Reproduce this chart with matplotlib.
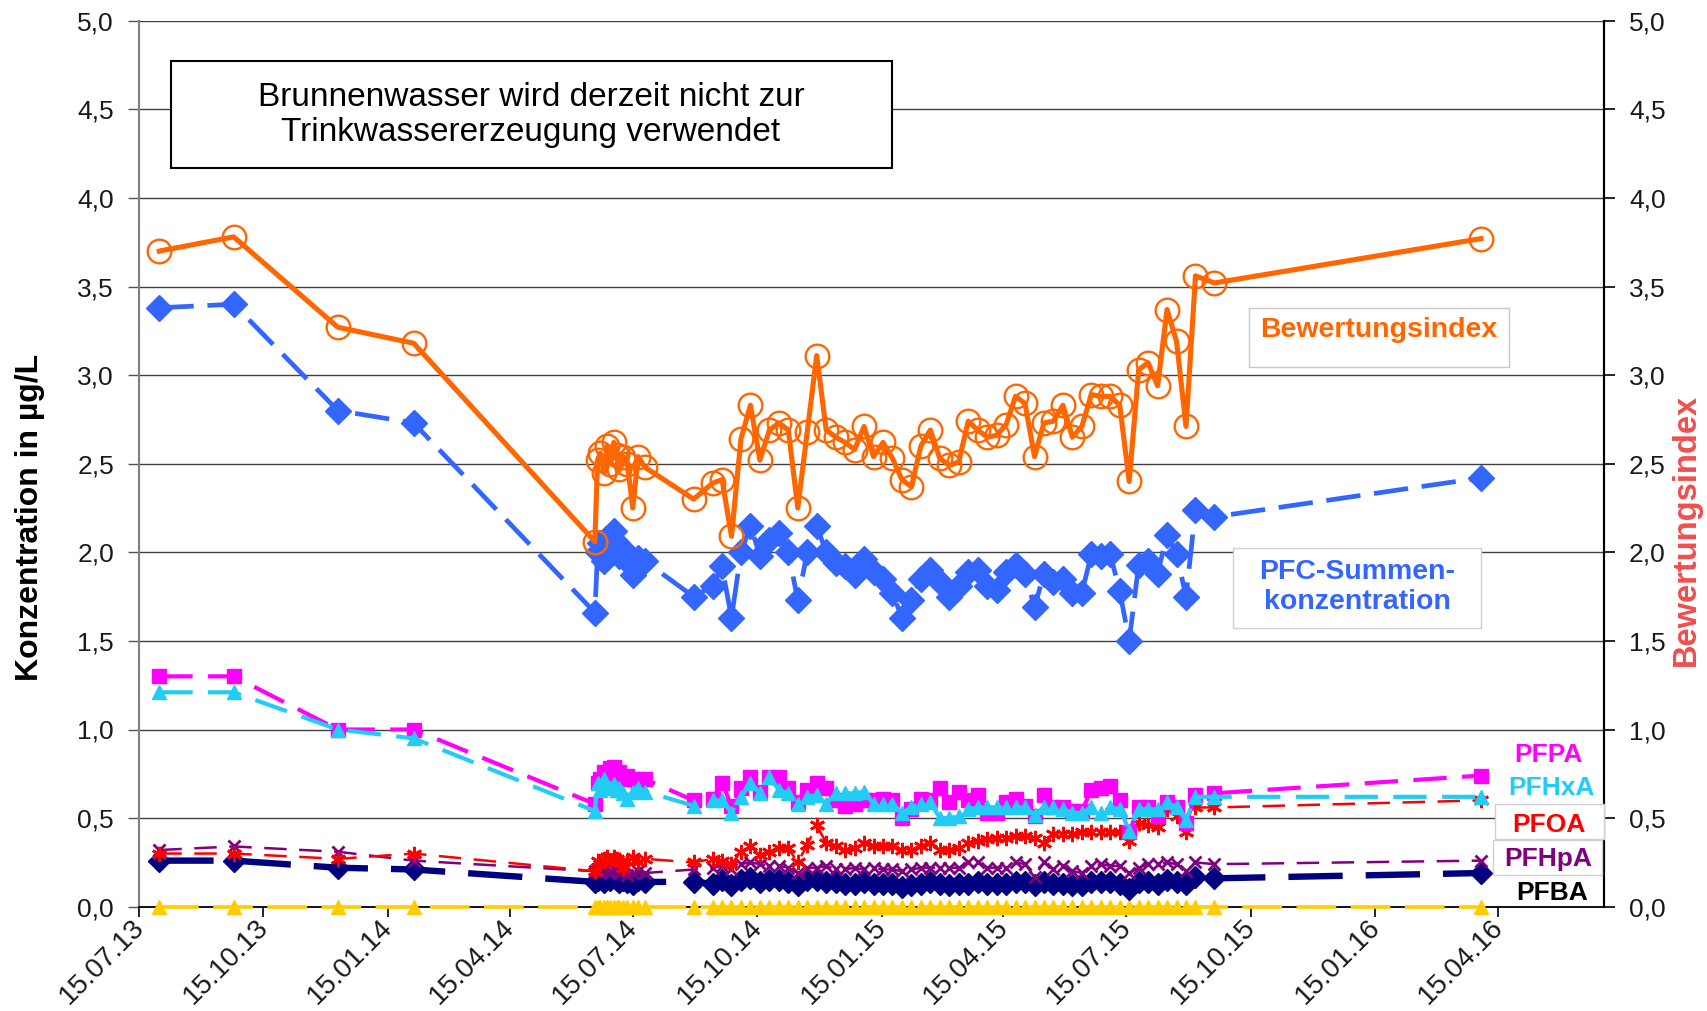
import matplotlib
matplotlib.use("Agg")
import matplotlib.pyplot as plt
import pandas as pd
from matplotlib.patches import Rectangle
from matplotlib.transforms import ScaledTranslation

plt.rcParams['font.family'] = ['Liberation Sans', 'DejaVu Sans']

# ---------------- data ----------------
dates = [
    "2013-07-30", "2013-09-23", "2013-12-09", "2014-02-03", "2014-06-17",
    "2014-06-19", "2014-06-21", "2014-06-24", "2014-06-26", "2014-06-28", "2014-07-01", "2014-07-03",
    "2014-07-05", "2014-07-08", "2014-07-11", "2014-07-15", "2014-07-19", "2014-07-24",
    "2014-08-29",
    "2014-09-12", "2014-09-19", "2014-09-26", "2014-10-03", "2014-10-10", "2014-10-17", "2014-10-24",
    "2014-10-31", "2014-11-07", "2014-11-14", "2014-11-21", "2014-11-28", "2014-12-05", "2014-12-12",
    "2014-12-19", "2014-12-26", "2015-01-02", "2015-01-09", "2015-01-16", "2015-01-23", "2015-01-30",
    "2015-02-06", "2015-02-13", "2015-02-20", "2015-02-27", "2015-03-06", "2015-03-13", "2015-03-20",
    "2015-03-27", "2015-04-03", "2015-04-10", "2015-04-17", "2015-04-24", "2015-05-01", "2015-05-08",
    "2015-05-15", "2015-05-22", "2015-05-29", "2015-06-05", "2015-06-12", "2015-06-19", "2015-06-26",
    "2015-07-03", "2015-07-10", "2015-07-17", "2015-07-24", "2015-07-31", "2015-08-07", "2015-08-14",
    "2015-08-21", "2015-08-28", "2015-09-04",
    "2015-09-18", "2016-04-02",
]

bewertungsindex = [
    3.70, 3.78, 3.27, 3.18, 2.06,
    2.52, 2.56, 2.45, 2.60, 2.50, 2.62, 2.55, 2.47, 2.54, 2.50, 2.25, 2.54, 2.48,
    2.30,
    2.39, 2.41, 2.09, 2.64, 2.83, 2.52, 2.69, 2.73, 2.69, 2.25,
    2.68, 3.11, 2.69, 2.65, 2.62, 2.58, 2.71, 2.54, 2.62, 2.53,
    2.41, 2.37, 2.60, 2.69, 2.53, 2.49, 2.51, 2.74, 2.69, 2.65,
    2.66, 2.72, 2.88, 2.84, 2.54, 2.73, 2.74, 2.83, 2.65, 2.71,
    2.89, 2.88, 2.88, 2.83, 2.40, 3.03, 3.07, 2.94, 3.37, 3.19,
    2.71, 3.56,
    3.52, 3.77,
]

pfc_summe = [
    3.38, 3.40, 2.80, 2.73, 1.66,
    2.00, 2.05, 1.95, 2.08, 2.00, 2.12, 2.05, 1.98, 2.02, 1.95, 1.87, 1.97, 1.95,
    1.75,
    1.81, 1.92, 1.63, 2.00, 2.15, 1.98, 2.07, 2.11, 2.00, 1.73,
    2.00, 2.15, 2.00, 1.94, 1.92, 1.87, 1.96, 1.89, 1.85, 1.77,
    1.63, 1.73, 1.85, 1.90, 1.83, 1.75, 1.81, 1.89, 1.90, 1.81,
    1.79, 1.89, 1.93, 1.88, 1.69, 1.88, 1.83, 1.85, 1.77, 1.77,
    1.99, 1.98, 1.99, 1.78, 1.50, 1.93, 1.95, 1.88, 2.10, 1.99,
    1.75, 2.24,
    2.20, 2.42,
]

pfpa = [
    1.30, 1.30, 1.00, 1.00, 0.58,
    0.70, 0.72, 0.76, 0.74, 0.78, 0.79, 0.75, 0.76, 0.72, 0.74, 0.72, 0.70, 0.72,
    0.60,
    0.61, 0.70, 0.57, 0.67, 0.73, 0.65, 0.73, 0.73, 0.67, 0.59,
    0.66, 0.70, 0.67, 0.60, 0.57, 0.58, 0.60, 0.60, 0.61, 0.60,
    0.50, 0.55, 0.61, 0.60, 0.67, 0.59, 0.65, 0.60, 0.63, 0.53,
    0.53, 0.59, 0.61, 0.57, 0.51, 0.63, 0.56, 0.56, 0.54, 0.54,
    0.66, 0.67, 0.68, 0.60, 0.42, 0.56, 0.56, 0.51, 0.59, 0.56,
    0.47, 0.63,
    0.64, 0.74,
]

pfhxa = [
    1.21, 1.21, 1.00, 0.95, 0.54,
    0.70, 0.66, 0.72, 0.68, 0.67, 0.69, 0.66, 0.67, 0.64, 0.61, 0.65, 0.67, 0.65,
    0.57,
    0.60, 0.60, 0.53, 0.62, 0.70, 0.64, 0.73, 0.66, 0.64, 0.58,
    0.62, 0.63, 0.58, 0.64, 0.64, 0.64, 0.65, 0.58, 0.58, 0.58,
    0.53, 0.56, 0.58, 0.59, 0.50, 0.50, 0.51, 0.55, 0.56, 0.56,
    0.56, 0.56, 0.56, 0.56, 0.52, 0.56, 0.56, 0.55, 0.53, 0.53,
    0.56, 0.53, 0.56, 0.55, 0.43, 0.55, 0.55, 0.55, 0.59, 0.56,
    0.49, 0.62,
    0.62, 0.62,
]

pfoa = [
    0.30, 0.30, 0.27, 0.30, 0.20,
    0.26, 0.24, 0.27, 0.28, 0.25, 0.28, 0.27, 0.25, 0.22, 0.26, 0.28, 0.25, 0.27,
    0.25,
    0.27, 0.26, 0.24, 0.31, 0.34, 0.29, 0.31, 0.33, 0.33, 0.25,
    0.35, 0.46, 0.36, 0.34, 0.32, 0.33, 0.36, 0.34, 0.34, 0.34,
    0.32, 0.32, 0.34, 0.36, 0.32, 0.32, 0.33, 0.36, 0.37, 0.38,
    0.39, 0.39, 0.40, 0.40, 0.39, 0.36, 0.41, 0.41, 0.41, 0.42,
    0.42, 0.42, 0.42, 0.42, 0.37, 0.47, 0.46, 0.45, 0.55, 0.51,
    0.42, 0.56,
    0.56, 0.60,
]

pfhpa = [
    0.32, 0.34, 0.31, 0.26, 0.20,
    0.20, 0.19, 0.21, 0.20, 0.19, 0.21, 0.20, 0.19, 0.20, 0.18, 0.19, 0.20, 0.19,
    0.21,
    0.22, 0.23, 0.21, 0.24, 0.25, 0.24, 0.23, 0.23, 0.22, 0.19,
    0.22, 0.22, 0.23, 0.21, 0.21, 0.22, 0.21, 0.22, 0.21, 0.21,
    0.20, 0.21, 0.22, 0.22, 0.22, 0.22, 0.22, 0.25, 0.25, 0.22,
    0.22, 0.22, 0.25, 0.24, 0.17, 0.25, 0.21, 0.23, 0.20, 0.19,
    0.23, 0.24, 0.23, 0.23, 0.19, 0.22, 0.24, 0.24, 0.25, 0.24,
    0.20, 0.25,
    0.24, 0.26,
]

pfba = [
    0.26, 0.26, 0.22, 0.21, 0.14,
    0.15, 0.16, 0.14, 0.16, 0.15, 0.17, 0.15, 0.14, 0.15, 0.14, 0.13, 0.15, 0.14,
    0.14,
    0.13, 0.15, 0.12, 0.15, 0.16, 0.14, 0.15, 0.15, 0.14, 0.12,
    0.15, 0.15, 0.14, 0.14, 0.13, 0.13, 0.14, 0.13, 0.13, 0.13,
    0.11, 0.12, 0.13, 0.14, 0.13, 0.12, 0.13, 0.13, 0.14, 0.13,
    0.13, 0.13, 0.14, 0.14, 0.12, 0.14, 0.13, 0.13, 0.12, 0.12,
    0.14, 0.14, 0.14, 0.13, 0.10, 0.14, 0.14, 0.13, 0.15, 0.14,
    0.13, 0.17,
    0.16, 0.19,
]

weitere = [
    0.0, 0.0, 0.0, 0.0, 0.0,
    0.0, 0.0, 0.0, 0.0, 0.0, 0.0, 0.0, 0.0, 0.0, 0.0, 0.0, 0.0, 0.0,
    0.0,
    0.0, 0.0, 0.0, 0.0, 0.0, 0.0, 0.0, 0.0, 0.0, 0.0,
    0.0, 0.0, 0.0, 0.0, 0.0, 0.0, 0.0, 0.0, 0.0, 0.0,
    0.0, 0.0, 0.0, 0.0, 0.0, 0.0, 0.0, 0.0, 0.0, 0.0,
    0.0, 0.0, 0.0, 0.0, 0.0, 0.0, 0.0, 0.0, 0.0, 0.0,
    0.0, 0.0, 0.0, 0.0, 0.0, 0.0, 0.0, 0.0, 0.0, 0.0,
    0.0, 0.0,
    0.0, 0.0,
]

xtick_labels = ["15.07.13", "15.10.13", "15.01.14", "15.04.14", "15.07.14", "15.10.14",
                "15.01.15", "15.04.15", "15.07.15", "15.10.15", "15.01.16", "15.04.16"]
ytick_values = [0.0, 0.5, 1.0, 1.5, 2.0, 2.5, 3.0, 3.5, 4.0, 4.5, 5.0]

# ---------------- figure ----------------
W, H = 1708, 1011
fig = plt.figure(figsize=(W / 100, H / 100), dpi=100)


def fx(x):
    return x / W


def fy(y):
    return 1 - y / H


ax = fig.add_axes([fx(139), fy(906.7), fx(1604) - fx(139), fy(20.7) - fy(906.7)])
x = pd.to_datetime(dates)

ax.set_ylim(0, 5)
ax.set_yticks(ytick_values)
ax.yaxis.grid(True, color='#404040', linewidth=1.0, zorder=0)
ax.set_axisbelow(True)

series = [
    # values, color, marker, ms, lw, dashes, mew
    (weitere, '#FFCC00', '^', 10, 2.6, (11, 4), 1),
    (pfba, '#000080', 'D', 11.5, 4.6, (8.5, 3.6), 1),
    (pfhpa, '#800080', 'x', 9, 1.8, (9, 5), 2),
    (pfoa, '#FF0000', (6, 2, 0), 11, 1.8, (9, 5), 2),
    (pfpa, '#FF00FF', 's', 10, 3.0, (8, 3.7), 1),
    (pfhxa, '#22CCF5', '^', 10.5, 3.0, (8, 3.7), 1),
    (pfc_summe, '#3366FF', 'D', 13, 3.4, (7.3, 2.9), 1),
]
for i, (vals, col, mk, ms, lw, dash, mew) in enumerate(series):
    ax.plot(x, vals, color=col, lw=lw, dashes=dash, marker=mk, ms=ms,
            mfc=col, mec=col, mew=mew, clip_on=False, zorder=3 + i)

ax.plot(x, bewertungsindex, color='#FF6600', lw=3.7, marker='o', ms=17,
        mfc='none', mec='#FF6600', mew=1.7, clip_on=False, zorder=12)

# x axis
xmin = pd.Timestamp('2013-07-15')
xmax = pd.Timestamp('2016-07-02')
ax.set_xlim(xmin, xmax)
tick_dates = pd.to_datetime(xtick_labels, format='%d.%m.%y')
ax.set_xticks(tick_dates)
ax.set_xticklabels(xtick_labels, rotation=45, ha='right', va='center',
                   rotation_mode='anchor', fontsize=20, color='#1a1a1a')
ax.tick_params(axis='x', direction='out', length=7, width=1.2, pad=5, color='black')
for lbl in ax.get_xticklabels():
    lbl.set_transform(lbl.get_transform() + ScaledTranslation(0.01, 0, fig.dpi_scale_trans))

ylabels = [f"{v:.1f}".replace('.', ',') for v in ytick_values]
ax.set_yticklabels(ylabels, fontsize=19, color='#1a1a1a')
ax.tick_params(axis='y', direction='out', length=8, width=1.0, pad=10, color='#555555')

ax.spines['top'].set_visible(False)
ax.spines['left'].set_color('#808080')
ax.spines['left'].set_linewidth(1.5)
ax.spines['bottom'].set_color('black')
ax.spines['bottom'].set_linewidth(1.3)
ax.spines['right'].set_color('black')
ax.spines['right'].set_linewidth(1.5)

ax2 = ax.twinx()
ax2.set_ylim(0, 5)
ax2.set_yticks(ytick_values)
ax2.set_yticklabels(ylabels, fontsize=19, color='#1a1a1a')
ax2.tick_params(axis='y', direction='out', length=8, width=1.2, pad=10, color='black')
for side in ['top', 'left', 'bottom']:
    ax2.spines[side].set_visible(False)
ax2.spines['right'].set_color('black')
ax2.spines['right'].set_linewidth(1.5)

# axis titles
fig.text(fx(30), fy(517), 'Konzentration in µg/L', rotation=90, ha='center', va='center',
         fontsize=23, fontweight='bold', color='black')
fig.text(fx(1686), fy(530), 'Bewertungsindex', rotation=90, ha='center', va='center',
         fontsize=23.5, fontweight='bold', color='#F04E4E')


def box(x0, y0, x1, y1, ec, lw):
    r = Rectangle((fx(x0), fy(y1)), fx(x1) - fx(x0), fy(y0) - fy(y1), transform=fig.transFigure,
                  facecolor='white', edgecolor=ec, linewidth=lw, zorder=20)
    fig.add_artist(r)


box(171, 61, 892, 168, 'black', 1.5)
fig.text(fx(531), fy(115), 'Brunnenwasser wird derzeit nicht zur\nTrinkwassererzeugung verwendet',
         ha='center', va='center', fontsize=24, linespacing=1.15, zorder=21)

box(1249, 308, 1509, 367, '#C8C8C8', 1.0)
fig.text(fx(1379), fy(330), 'Bewertungsindex', ha='center', va='center', fontsize=20.5,
         fontweight='bold', color='#FF6600', zorder=21)

box(1233, 548, 1481, 628, '#D0D0D0', 1.0)
fig.text(fx(1357), fy(587), 'PFC-Summen-\nkonzentration', ha='center', va='center', fontsize=20.5,
         fontweight='bold', color='#3366FF', linespacing=1.2, zorder=21)

box(1495, 804, 1604, 839, '#D0D0D0', 1.0)
box(1493, 840, 1602, 875, '#D0D0D0', 1.0)
labels_right = [
    ('PFPA', '#FF00FF', 1548, 755),
    ('PFHxA', '#22CCF5', 1551, 788),
    ('PFOA', '#FF0000', 1549, 825),
    ('PFHpA', '#800080', 1548, 859),
    ('PFBA', 'black', 1552, 893),
]
for txt, col, px, py in labels_right:
    fig.text(fx(px), fy(py), txt, ha='center', va='center', fontsize=19, fontweight='bold',
             color=col, zorder=22)

fig.savefig('out.png', dpi=100)
